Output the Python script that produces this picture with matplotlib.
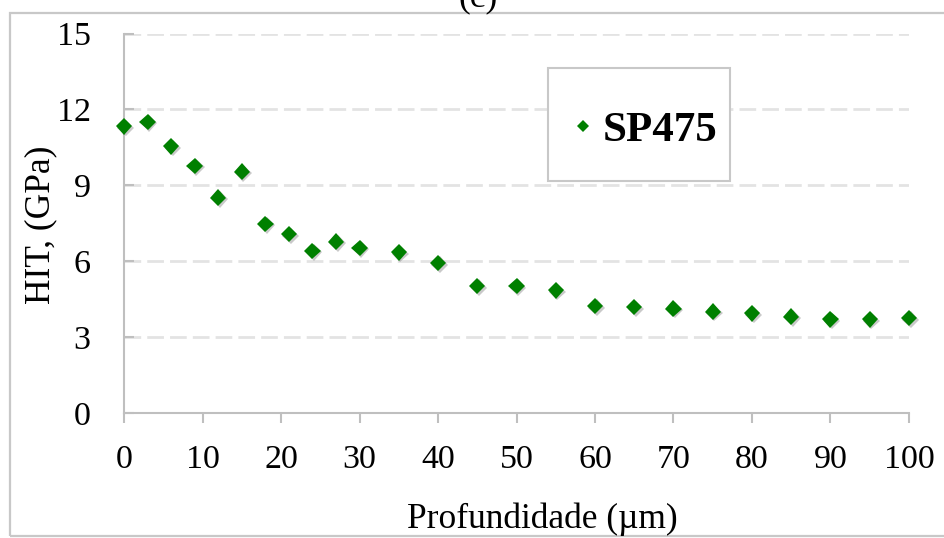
import matplotlib
matplotlib.use("Agg")
import matplotlib.pyplot as plt
from matplotlib.patches import Rectangle
from matplotlib.lines import Line2D
import matplotlib.patheffects as pe

# Indentation hardness profile
depth_um = [0, 3, 6, 9, 12, 15, 18, 21, 24, 27, 30, 35, 40, 45, 50, 55,
            60, 65, 70, 75, 80, 85, 90, 95, 100]
hit_gpa = [11.33, 11.51, 10.54, 9.77, 8.51, 9.54, 7.48, 7.07, 6.41, 6.77,
           6.53, 6.35, 5.93, 5.02, 5.02, 4.85, 4.23, 4.18, 4.13, 4.01,
           3.94, 3.81, 3.70, 3.70, 3.76]
series_name = "SP475"
x_ticks = [0, 10, 20, 30, 40, 50, 60, 70, 80, 90, 100]
y_ticks = [0, 3, 6, 9, 12, 15]

W, H = 944, 538
SERIF = ["Liberation Serif", "DejaVu Serif"]
GREEN = "#008000"
AXIS_GREY = "#bfbfbf"
GRID_GREY = "#e3e3e3"
TICK_FS = 24.5
LABEL_FS = 25.5

fig = plt.figure(figsize=(W / 100, H / 100), dpi=100)
fig.patch.set_facecolor("white")

def px_box(x0, y0, x1, y1):
    return [x0 / W, 1 - y1 / H, (x1 - x0) / W, (y1 - y0) / H]

ax = fig.add_axes(px_box(124, 33.5, 909, 413))
ax.set_facecolor("white")

shadow = [pe.SimplePatchShadow(offset=(1.2, -1.2), shadow_rgbFace="#666666", alpha=0.35),
          pe.Normal()]
ax.plot(depth_um, hit_gpa, linestyle="none", marker="D", markersize=8.4,
        color=GREEN, markeredgewidth=0, path_effects=shadow, zorder=3,
        clip_on=False)

ax.set_xlim(0, 100)
ax.set_ylim(0, 15)
ax.set_xticks(x_ticks)
ax.set_yticks(y_ticks)
ax.set_xticklabels([str(v) for v in x_ticks])
ax.set_yticklabels([str(v) for v in y_ticks])

for side in ("top", "right"):
    ax.spines[side].set_visible(False)
for side in ("left", "bottom"):
    ax.spines[side].set_color(AXIS_GREY)
    ax.spines[side].set_linewidth(1.5)

ax.yaxis.grid(True, color=GRID_GREY, linewidth=2.0, linestyle=(0, (6, 2.2)))
ax.set_axisbelow(True)

ax.tick_params(axis="x", direction="out", length=7, width=1.5, color=AXIS_GREY,
               pad=16, labelsize=TICK_FS, labelfontfamily=SERIF)
ax.tick_params(axis="y", direction="in", length=7, width=1.5, color=AXIS_GREY,
               pad=24, labelsize=TICK_FS, labelfontfamily=SERIF)

ax.set_xlabel("Profundidade (µm)", fontsize=LABEL_FS, family=SERIF)
ax.xaxis.set_label_coords((542 - 124) / 785, (413 - 503) / 379.5)
ax.set_ylabel("HIT, (GPa)", fontsize=LABEL_FS, family=SERIF, va="center")
ax.yaxis.set_label_coords((41 - 124) / 785, 0.495)

# Legend panel: white box with a light frame, drawn over the gridlines
frame = Rectangle((548 / W, 1 - 181 / H), (730 - 548) / W, (181 - 68) / H,
                  transform=fig.transFigure, facecolor="white",
                  edgecolor="#c8c8c8", linewidth=1.5, zorder=5, clip_on=False)
ax.add_patch(frame)
handle = Line2D([], [], linestyle="none", marker="D", markersize=6.5,
                color=GREEN, markeredgewidth=0)
leg = ax.legend([handle], [series_name], loc="center left",
                bbox_to_anchor=(549 / W, 1 - 130 / H),
                bbox_transform=fig.transFigure, frameon=False,
                handlelength=0.6, handletextpad=0.15, borderpad=0,
                prop={"family": SERIF, "weight": "bold", "size": 31})
leg.set_zorder(6)

# Outer chart border and panel tag
border = Rectangle((10 / W, 1 - 536 / H), (W + 10) / W, (536 - 12.5) / H,
                   transform=fig.transFigure, facecolor="none",
                   edgecolor="#c8c8c8", linewidth=1.6, zorder=0)
fig.add_artist(border)
fig.text(478 / W, 1 - 6 / H, "(c)", ha="center", va="baseline",
         fontsize=LABEL_FS, family=SERIF)

fig.savefig("out.png", dpi=100)
